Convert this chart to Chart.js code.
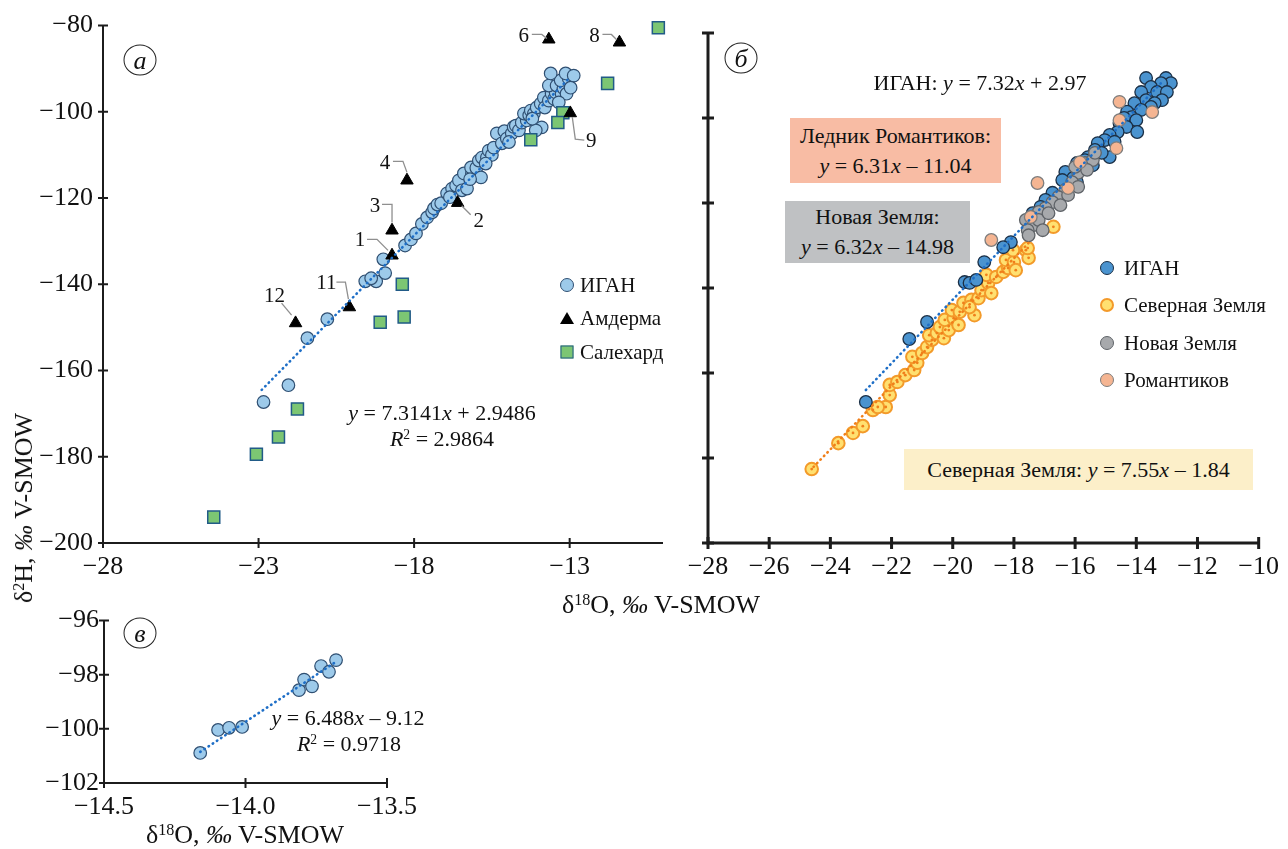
<!DOCTYPE html>
<html>
<head>
<meta charset="utf-8">
<script src="https://cdn.jsdelivr.net/npm/chart.js@4.4.0/dist/chart.umd.min.js"></script>
<style>
  body { margin: 0; width: 1288px; height: 849px; background: #fff; position: relative; overflow: hidden;
         font-family: "Liberation Serif", "DejaVu Serif", serif; color: #111; }
  canvas { position: absolute; }
  .t { position: absolute; white-space: nowrap; transform: translate(-50%, -50%); line-height: 1; }
  .t sup, .bx sup { font-size: 0.62em; vertical-align: 0.5em; line-height: 0; }
  .bx { position: absolute; display: flex; flex-direction: column; justify-content: center; align-items: center;
        font-size: 22px; line-height: 30px; white-space: nowrap; }
  .lab { position: absolute; width: 31px; height: 29px; border: 1.3px solid #222; border-radius: 50%;
         transform: translate(-50%, -50%); display: flex; align-items: center; justify-content: center;
         font-style: italic; font-size: 26px; line-height: 1; }
  .leg { position: absolute; font-size: 21px; line-height: 1; white-space: nowrap; transform: translateY(-50%); }
  .mk { position: absolute; transform: translate(-50%, -50%); box-sizing: border-box; }
</style>
</head>
<body>
<canvas id="chartA" width="700" height="600" style="left:0;top:0"></canvas>
<canvas id="chartB" width="628" height="600" style="left:660px;top:0"></canvas>
<canvas id="chartV" width="450" height="249" style="left:0;top:600px"></canvas>

<!-- panel labels -->
<div class="lab" style="left:140px;top:60px">а</div>
<div class="lab" style="left:741px;top:58px">б</div>
<div class="lab" style="left:140px;top:633px">в</div>

<!-- axis titles -->
<div class="t" style="left:24px;top:508px;font-size:26px;transform:translate(-50%,-50%) rotate(-90deg)">δ<sup>2</sup>H, <i>‰</i> V-SMOW</div>
<div class="t" style="left:661px;top:605px;font-size:26px">δ<sup>18</sup>O, <i>‰</i> V-SMOW</div>
<div class="t" style="left:245px;top:835px;font-size:26px">δ<sup>18</sup>O, <i>‰</i> V-SMOW</div>

<!-- panel a annotations -->
<div class="t" style="left:442px;top:413px;font-size:22px"><i>y</i> = 7.3141<i>x</i> + 2.9486</div>
<div class="t" style="left:442px;top:439px;font-size:22px"><i>R</i><sup>2</sup> = 2.9864</div>

<div class="mk" style="left:567px;top:285px;width:14px;height:14px;border-radius:50%;background:#9dcaea;border:1.2px solid #2f4f72"></div>
<div class="leg" style="left:580px;top:285px">ИГАН</div>
<div class="mk" style="left:567px;top:318px;width:14px;height:12px;background:#000;clip-path:polygon(50% 0,100% 100%,0 100%)"></div>
<div class="leg" style="left:580px;top:318px">Амдерма</div>
<div class="mk" style="left:567px;top:352px;width:13px;height:13px;background:#7cc673;border:1.5px solid #215b87"></div>
<div class="leg" style="left:580px;top:352px">Салехард</div>

<!-- panel b annotations -->
<div class="t" style="left:980px;top:83px;font-size:22px">ИГАН: <i>y</i> = 7.32<i>x</i> + 2.97</div>
<div class="bx" style="left:790px;top:118px;width:211px;height:65px;background:#f8bca4">
  <div>Ледник Романтиков:</div><div><i>y</i> = 6.31<i>x</i> – 11.04</div></div>
<div class="bx" style="left:785px;top:201px;width:185px;height:62px;background:#bfc1c3">
  <div>Новая Земля:</div><div><i>y</i> = 6.32<i>x</i> – 14.98</div></div>
<div class="bx" style="left:904px;top:449px;width:349px;height:41px;background:#fcefc9">
  <div>Северная Земля: <i>y</i> = 7.55<i>x</i> – 1.84</div></div>

<div class="mk" style="left:1107px;top:268px;width:14px;height:14px;border-radius:50%;background:#4a93cf;border:1.2px solid #1b2f45"></div>
<div class="leg" style="left:1124px;top:268px">ИГАН</div>
<div class="mk" style="left:1107px;top:305px;width:14px;height:14px;border-radius:50%;background:#ffe070;border:2px solid #f39a2a"></div>
<div class="leg" style="left:1124px;top:305px">Северная Земля</div>
<div class="mk" style="left:1107px;top:343px;width:14px;height:14px;border-radius:50%;background:#a7a9ac;border:1.5px solid #5f6368"></div>
<div class="leg" style="left:1124px;top:343px">Новая Земля</div>
<div class="mk" style="left:1107px;top:380px;width:14px;height:14px;border-radius:50%;background:#f5b592;border:1.5px solid #7d7d7d"></div>
<div class="leg" style="left:1124px;top:380px">Романтиков</div>

<!-- panel v annotations -->
<div class="t" style="left:348px;top:718px;font-size:22px"><i>y</i> = 6.488<i>x</i> – 9.12</div>
<div class="t" style="left:349px;top:744px;font-size:22px"><i>R</i><sup>2</sup> = 0.9718</div>

<script>
// ---- panel а ----
const ticksAx = [-28, -23, -18, -13];

const iganAx = [-22.84, -22.04, -21.43, -20.79, -19.57, -19.22, -19.38, -18.93, -18.99, -18.29, -18.10,
  -17.94, -17.75, -17.58, -17.42, -17.36, -17.25, -17.13, -16.94, -16.78, -16.65, -16.56, -16.46, -16.30,
  -16.40, -16.14, -16.17, -16.00, -15.92, -15.82, -15.66, -15.60, -15.85, -15.50, -15.44, -15.34, -15.18,
  -15.10, -15.02, -14.86, -14.80, -14.73, -14.63, -14.54, -14.38, -14.47, -14.30, -14.25, -14.15, -14.06,
  -13.93, -13.90, -14.09, -13.83, -13.80, -13.67, -13.58, -13.50, -13.45, -13.67, -13.42, -13.26, -13.20,
  -13.10, -13.29, -13.03, -13.61, -13.13, -12.87, -12.97, -16.85, -16.20, -15.70, -14.95, -14.20, -13.35];
const iganAy = [-167.3, -163.4, -152.5, -148.1, -139.3, -139.3, -138.6, -137.4, -134.2, -131.0, -129.6,
  -128.2, -126.0, -124.5, -123.3, -122.4, -121.5, -121.2, -118.9, -117.8, -117.1, -115.9, -118.2, -117.8,
  -114.3, -114.3, -112.9, -113.0, -111.3, -110.6, -110.6, -109.0, -115.2, -110.0, -108.3, -105.0, -107.3,
  -104.5, -106.2, -105.0, -103.5, -103.2, -104.3, -102.5, -102.0, -100.4, -100.8, -99.7, -100.4, -99.0,
  -98.1, -103.6, -104.3, -96.7, -99.0, -97.4, -95.8, -97.0, -95.5, -93.9, -93.9, -95.8, -94.5,
  -95.8, -92.7, -92.3, -91.1, -91.1, -91.6, -94.4, -119.8, -115.6, -112.0, -107.0, -101.6, -97.8];

const amdNames = ['1', '2', '3', '4', '6', '8', '9', '11', '12'];
const amdX = [-18.71, -16.60, -18.71, -18.23, -13.67, -11.40, -12.98, -20.08, -21.81];
const amdY = [-133.3, -121.1, -127.5, -115.9, -83.2, -83.9, -100.3, -145.3, -149.0];

const salX = [-10.15, -11.78, -13.22, -13.38, -14.25, -18.38, -18.32, -19.09, -21.75, -22.36, -23.07, -24.44];
const salY = [-80.5, -93.4, -100.2, -102.5, -106.5, -140.0, -147.6, -148.8, -168.9, -175.4, -179.4, -194.0];

const trendAX = [-22.9, -13.0];
const trendAY = [-164.5, -92.1];

// ---- panel б ----
const iganBx = [-13.68, -13.03, -12.87, -13.19, -13.52, -13.84, -13.32, -13.00, -13.68, -13.16, -13.40,
  -14.06, -13.52, -14.30, -13.84, -14.16, -14.40, -14.00, -14.55, -14.32, -13.97, -14.61, -14.87, -15.03,
  -14.71, -15.26, -15.35, -14.87, -15.13, -15.58, -15.68, -15.42, -15.94, -16.32, -16.06, -16.42, -15.94,
  -16.74, -16.97, -17.13, -17.39, -18.10, -18.35, -18.97, -19.61, -19.45, -19.23, -20.84, -21.42, -22.84];
const iganBy = [-90.6, -90.6, -91.8, -91.8, -92.7, -93.9, -93.9, -93.9, -95.8, -95.8, -96.5,
  -96.5, -97.4, -98.5, -98.1, -99.8, -100.0, -100.5, -101.2, -102.1, -103.3, -103.3, -104.0, -105.2,
  -105.6, -105.9, -107.5, -109.2, -108.2, -109.2, -109.9, -111.1, -110.6, -112.7, -114.1, -114.6, -115.1,
  -117.6, -119.3, -120.9, -122.4, -129.2, -130.4, -133.9, -138.6, -138.8, -138.1, -148.0, -152.0, -166.8];

const novX = [-15.68, -15.42, -15.90, -15.61, -16.10, -15.90, -16.32, -16.55, -16.23, -16.74, -16.48, -16.97,
  -17.19, -17.45, -17.61, -17.35, -17.55, -17.19, -17.06, -16.00, -15.35, -16.87, -17.52];
const novY = [-110.6, -109.9, -112.9, -112.2, -115.1, -116.2, -116.9, -118.6, -118.1, -119.8, -120.5, -121.2,
  -122.1, -123.3, -124.0, -125.2, -126.4, -124.0, -126.4, -111.5, -108.2, -122.4, -127.6];

const romX = [-14.55, -13.48, -14.55, -14.65, -15.84, -17.23, -16.23, -17.45, -18.74];
const romY = [-96.2, -98.6, -100.5, -107.1, -110.4, -115.3, -116.5, -123.3, -128.7];

const sevX = [-24.61, -23.74, -23.26, -22.94, -22.61, -22.19, -22.45, -22.06, -22.06, -21.81, -21.55, -21.26,
  -21.16, -21.32, -21.00, -20.84, -20.68, -20.77, -20.52, -20.29, -20.42, -20.13, -20.26, -19.97, -19.81,
  -20.03, -19.77, -19.65, -19.39, -19.29, -19.16, -19.45, -19.06, -18.84, -18.74, -18.90, -18.58, -18.35,
  -18.19, -18.26, -18.00, -18.03, -17.61, -17.52, -17.94, -16.71, -17.55];
const sevY = [-182.6, -176.5, -174.1, -172.5, -168.7, -168.0, -168.0, -165.2, -162.8, -162.1, -160.5, -159.3,
  -157.6, -156.2, -155.3, -153.9, -152.2, -151.1, -150.6, -151.8, -149.2, -149.9, -147.5, -147.1, -148.7,
  -145.2, -145.6, -143.5, -142.8, -146.4, -142.4, -144.5, -140.5, -138.8, -141.2, -136.9, -137.4, -136.2,
  -135.3, -133.4, -133.9, -131.1, -131.1, -132.9, -135.8, -125.6, -130.6];

const trendIganBX = [-22.84, -13.10];
const trendIganBY = [-164.0, -91.1];
const trendSevX = [-24.55, -17.52];
const trendSevY = [-182.1, -129.4];

// ---- panel в ----
const igVX = [-14.16, -14.097, -14.058, -14.012, -13.811, -13.793, -13.765, -13.733, -13.705, -13.680];
const igVY = [-100.89, -100.04, -99.96, -99.93, -98.57, -98.18, -98.43, -97.68, -97.89, -97.46];
const trendVX = [-14.16, -13.68];
const trendVY = [-100.85, -97.52];

// ---- helpers ----
const xy = (xs, ys) => xs.map((x, i) => ({ x, y: ys[i] }));
const minus = v => String(v).replace('-', '\u2212');
const tickFont = size => ({ family: '"Liberation Serif", serif', size });

function trend(xs, ys, color) {
  return { type: 'line', data: xy(xs, ys), borderColor: color, borderWidth: 2.6, borderDash: [0.5, 4.5],
    borderCapStyle: 'round', pointRadius: 0, fill: false, clip: false };
}

function scale(min, max, step, opt) {
  return {
    type: 'linear', min, max,
    grid: { display: false, drawTicks: false }, border: { display: false },
    ticks: { stepSize: step, callback: opt.fmt || minus, padding: opt.pad, color: '#111',
      font: tickFont(opt.font || 26), display: opt.labels !== false, autoSkip: false, maxRotation: 0 },
    afterBuildTicks: opt.ticks ? s => { s.ticks = opt.ticks.map(v => ({ value: v })); } : undefined,
    afterFit: s => { if (opt.w !== undefined) s.width = opt.w; if (opt.h !== undefined) s.height = opt.h; }
  };
}

// axis lines with ticks crossing them
const axisLines = {
  id: 'axisLines',
  beforeDatasetsDraw(chart, args, o) {
    const { ctx, chartArea: a, scales: { x, y } } = chart;
    ctx.save();
    ctx.strokeStyle = '#1c1c1c';
    ctx.lineWidth = o.width;
    ctx.beginPath();
    ctx.moveTo(a.left, a.top);
    ctx.lineTo(a.left, a.bottom);
    ctx.lineTo(a.right, a.bottom);
    ctx.stroke();
    ctx.beginPath();
    x.ticks.forEach(t => {
      const px = x.getPixelForValue(t.value);
      ctx.moveTo(px, a.bottom - o.tick);
      ctx.lineTo(px, a.bottom + o.tick);
    });
    y.ticks.forEach(t => {
      const py = y.getPixelForValue(t.value);
      ctx.moveTo(a.left - o.tick, py);
      ctx.lineTo(a.left + o.tick, py);
    });
    ctx.stroke();
    ctx.restore();
  }
};

// numbered labels of the Амдерма triangles (offsets in px from the marker)
const amdLayout = [
  { dx: -32, dy: -15, path: [[-25, -16], [-15, -16], [-4, -5]] },
  { dx: 21, dy: 19, path: [[4, 3], [13, 12]] },
  { dx: -17, dy: -24, path: [[-10, -26], [0, -26], [0, -8]] },
  { dx: -22, dy: -17, path: [[-14, -19], [-4, -19], [0, -8]] },
  { dx: -25, dy: -3, path: [[-17, -5], [-7, -5], [-2, -1]] },
  { dx: -25, dy: -6, path: [[-17, -8], [-8, -8], [-3, -3]] },
  { dx: 21, dy: 28, path: [[2, 4], [5, 26], [14, 27]] },
  { dx: -23, dy: -24, path: [[-13, -25], [-4, -25], [-1, -8]] },
  { dx: -21, dy: -27, path: [[-14, -20], [-4, -8]] }
];
const amdLabels = {
  id: 'amdLabels',
  afterDatasetsDraw(chart) {
    const meta = chart.getDatasetMeta(1);
    const ctx = chart.ctx;
    ctx.save();
    ctx.strokeStyle = '#8f8f8f';
    ctx.lineWidth = 1.3;
    ctx.fillStyle = '#111';
    ctx.font = '21px "Liberation Serif", serif';
    ctx.textAlign = 'center';
    ctx.textBaseline = 'middle';
    meta.data.forEach((pt, i) => {
      const l = amdLayout[i];
      ctx.beginPath();
      l.path.forEach(([dx, dy], k) => k ? ctx.lineTo(pt.x + dx, pt.y + dy) : ctx.moveTo(pt.x + dx, pt.y + dy));
      ctx.stroke();
      ctx.fillText(amdNames[i], pt.x + l.dx, pt.y + l.dy);
    });
    ctx.restore();
  }
};

const common = {
  responsive: false, animation: false, events: [],
  plugins: { legend: { display: false }, tooltip: { enabled: false } }
};

new Chart(document.getElementById('chartA'), {
  type: 'scatter',
  data: {
    datasets: [
      trend(trendAX, trendAY, '#1f6fc7'),
      { data: xy(amdX, amdY), pointStyle: 'triangle', pointRadius: 7.2, backgroundColor: '#000', borderColor: '#000', borderWidth: 1, clip: false },
      { data: xy(salX, salY), pointStyle: 'rect', pointRadius: 8.5, backgroundColor: '#7cc673', borderColor: '#215b87', borderWidth: 1.5, clip: false },
      { data: xy(iganAx, iganAy), pointRadius: 6.3, backgroundColor: '#9dcaea', borderColor: '#2f4f72', borderWidth: 1.2, clip: false }
    ]
  },
  options: {
    ...common,
    layout: { padding: { top: 25, right: 37, left: 0, bottom: 0 } },
    plugins: { ...common.plugins, axisLines: { width: 2, tick: 5 } },
    scales: {
      x: scale(-28, -10, 5, { ticks: ticksAx, pad: 9, h: 57 }),
      y: scale(-200, -80, 20, { pad: 10, w: 103 })
    }
  },
  plugins: [axisLines, amdLabels]
});

new Chart(document.getElementById('chartB'), {
  type: 'scatter',
  data: {
    datasets: [
      trend(trendIganBX, trendIganBY, '#1f6fc7'),
      trend(trendSevX, trendSevY, '#f07f1a'),
      { data: xy(romX, romY), pointRadius: 6.3, backgroundColor: '#f5b592', borderColor: '#7d7d7d', borderWidth: 1.3, clip: false },
      { data: xy(novX, novY), pointRadius: 6.3, backgroundColor: '#a7a9ac', borderColor: '#5f6368', borderWidth: 1.3, clip: false },
      { data: xy(iganBx, iganBy), pointRadius: 6.3, backgroundColor: '#4a93cf', borderColor: '#1b2f45', borderWidth: 1.3, clip: false },
      { data: xy(sevX, sevY), pointRadius: 1.4, backgroundColor: '#f07f1a', borderWidth: 0, clip: false },
      { data: xy(sevX, sevY), pointRadius: 6.3, backgroundColor: '#ffe070', borderColor: '#f39a2a', borderWidth: 2, clip: false }
    ]
  },
  options: {
    ...common,
    layout: { padding: { top: 33, right: 22, left: 0, bottom: 0 } },
    plugins: { ...common.plugins, axisLines: { width: 3, tick: 6 } },
    scales: {
      x: scale(-28, -10, 2, { pad: 9, h: 57 }),
      y: scale(-200, -80, 20, { labels: false, pad: 0, w: 48 })
    }
  },
  plugins: [axisLines]
});

new Chart(document.getElementById('chartV'), {
  type: 'scatter',
  data: {
    datasets: [
      trend(trendVX, trendVY, '#1f6fc7'),
      { data: xy(igVX, igVY), pointRadius: 6.3, backgroundColor: '#9dcaea', borderColor: '#2f4f72', borderWidth: 1.2, clip: false }
    ]
  },
  options: {
    ...common,
    layout: { padding: { top: 15, right: 63, left: 0, bottom: 0 } },
    plugins: { ...common.plugins, axisLines: { width: 2, tick: 5 } },
    scales: {
      x: scale(-14.5, -13.5, 0.5, { pad: 9, h: 66, font: 26, fmt: v => v.toFixed(1).replace('-', '\u2212') }),
      y: scale(-102, -96, 2, { pad: 5, w: 104, font: 26 })
    }
  },
  plugins: [axisLines]
});
</script>
</body>
</html>
